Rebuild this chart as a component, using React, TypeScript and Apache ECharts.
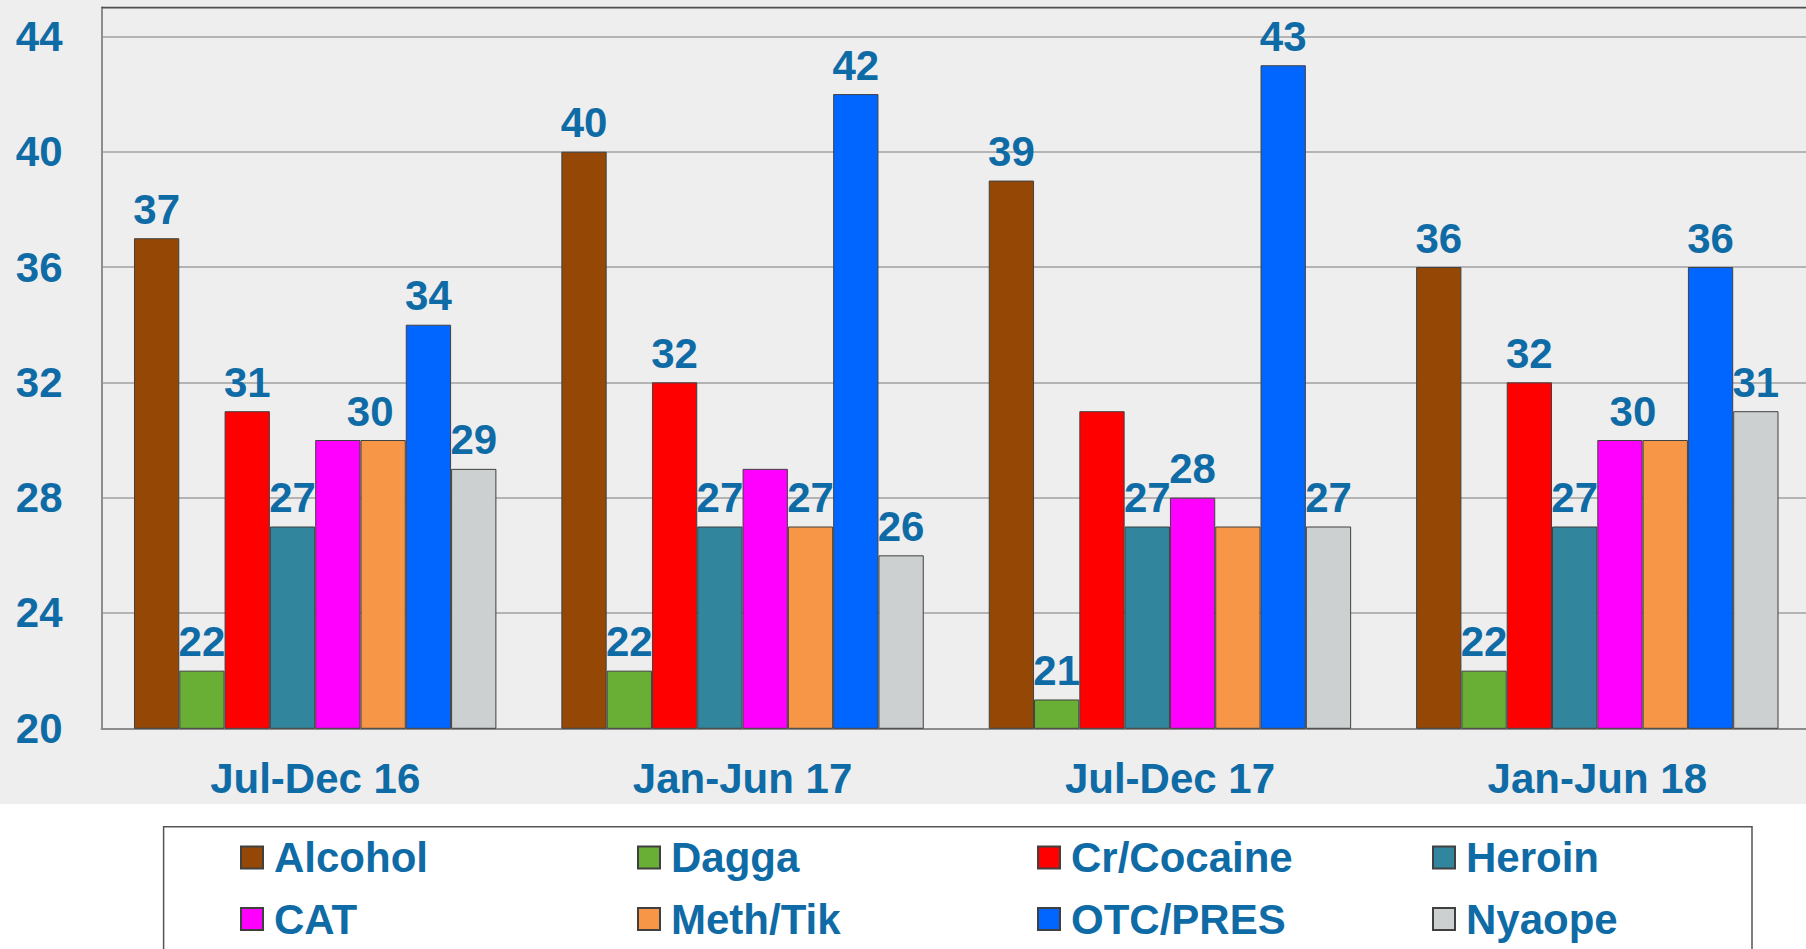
import React, { useEffect, useRef } from 'react';
import * as echarts from 'echarts';

// ---- data ----
const categories = ['Jul-Dec 16', 'Jan-Jun 17', 'Jul-Dec 17', 'Jan-Jun 18'];
const seriesNames = ['Alcohol', 'Dagga', 'Cr/Cocaine', 'Heroin', 'CAT', 'Meth/Tik', 'OTC/PRES', 'Nyaope'];
const alcohol = [37, 40, 39, 36];
const dagga = [22, 22, 21, 22];
const cocaine = [31, 32, 31, 32];
const heroin = [27, 27, 27, 27];
const cat = [30, 29, 28, 30];
const meth = [30, 27, 27, 30];
const otc = [34, 42, 43, 36];
const nyaope = [29, 26, 27, 31];
const yTicks = [20, 24, 28, 32, 36, 40, 44];

const seriesValues = [alcohol, dagga, cocaine, heroin, cat, meth, otc, nyaope];

// ---- styles ----
const colors = ['#954806', '#6AAF35', '#FF0000', '#31859C', '#FF00FF', '#F79646', '#0066FF', '#CCD0D0'];
const TEXT = '#0F6BA5';
const FONT = "'Liberation Sans', Arial, Helvetica, sans-serif";

// labels not shown in the reference (series name -> category indexes)
const hiddenLabels: Record<string, number[]> = {
  CAT: [0, 1],
  'Cr/Cocaine': [2],
  'Meth/Tik': [2, 3],
};
// horizontal nudges of a few labels (series name -> {categoryIndex: dx})
const labelNudge: Record<string, Record<number, number>> = {
  'Meth/Tik': { 0: -13 },
  CAT: { 3: 13 },
};

const legendCols = [240, 637, 1037, 1432];
const legendRows = [836.5, 898];

export default function App() {
  const ref = useRef<HTMLDivElement>(null);

  useEffect(() => {
    if (!ref.current) return;
    const chart = echarts.init(ref.current, null, { renderer: 'svg' });

    const textBase = { fontFamily: FONT, fontWeight: 'bold' as const, fontSize: 42, color: TEXT };

    const series = seriesNames.map((name, si) => ({
      name,
      type: 'bar',
      barWidth: 45.3,
      barGap: '0%',
      itemStyle: { color: colors[si], borderColor: '#404040', borderWidth: 1 },
      label: {
        show: true,
        position: 'top',
        distance: 8,
        ...textBase,
      },
      data: seriesValues[si].map((v, ci) => {
        const hidden = (hiddenLabels[name] || []).includes(ci);
        const dx = (labelNudge[name] || {})[ci];
        if (hidden) return { value: v, label: { show: false } };
        if (dx) return { value: v, label: { show: true, offset: [dx, 0] } };
        return v;
      }),
    }));

    const legends = seriesNames.map((name, i) => ({
      data: [name],
      left: legendCols[i % 4],
      top: legendRows[Math.floor(i / 4)],
      padding: 0,
      itemWidth: 22,
      itemHeight: 22,
      icon: 'rect',
      selectedMode: false,
      textStyle: { ...textBase, padding: [0, 0, 0, 6] },
    }));

    chart.setOption({
      animation: false,
      backgroundColor: '#FFFFFF',
      graphic: [
        { type: 'rect', z: -10, shape: { x: 0, y: 0, width: 1811, height: 804 }, style: { fill: '#EEEEEE' } },
        {
          type: 'rect', z: -5,
          shape: { x: 163.6, y: 826.7, width: 1588.4, height: 200 },
          style: { fill: '#FFFFFF', stroke: '#555555', lineWidth: 1.5 },
        },
        {
          type: 'line', z: 10,
          shape: { x1: 101.5, y1: 7.6, x2: 1811, y2: 7.6 },
          style: { stroke: '#505050', lineWidth: 1.5 },
        },
      ],
      legend: legends,
      grid: { left: 101.5, right: 0, top: 7.6, bottom: 220.7, containLabel: false },
      xAxis: {
        type: 'category',
        data: categories,
        axisLine: { show: true, lineStyle: { color: '#8C8C8C', width: 2 } },
        axisTick: { show: false },
        axisLabel: { ...textBase, margin: 29 },
      },
      yAxis: {
        type: 'value',
        min: yTicks[0],
        max: 45,
        interval: yTicks[1] - yTicks[0],
        axisLine: { show: true, lineStyle: { color: '#8C8C8C', width: 2 } },
        axisTick: { show: false },
        splitLine: { show: true, lineStyle: { color: '#A0A0A0', width: 1.5 } },
        axisLabel: {
          ...textBase,
          margin: 39,
          formatter: (v: number) => (yTicks.includes(v) ? String(v) : ''),
        },
      },
      series,
    });

    return () => chart.dispose();
  }, []);

  return (
    <div
      style={{ position: 'fixed', left: 0, top: 0, width: 1806, height: 949, overflow: 'hidden', background: '#FFFFFF' }}
    >
      <div ref={ref} style={{ width: 1811, height: 949 }} />
    </div>
  );
}
